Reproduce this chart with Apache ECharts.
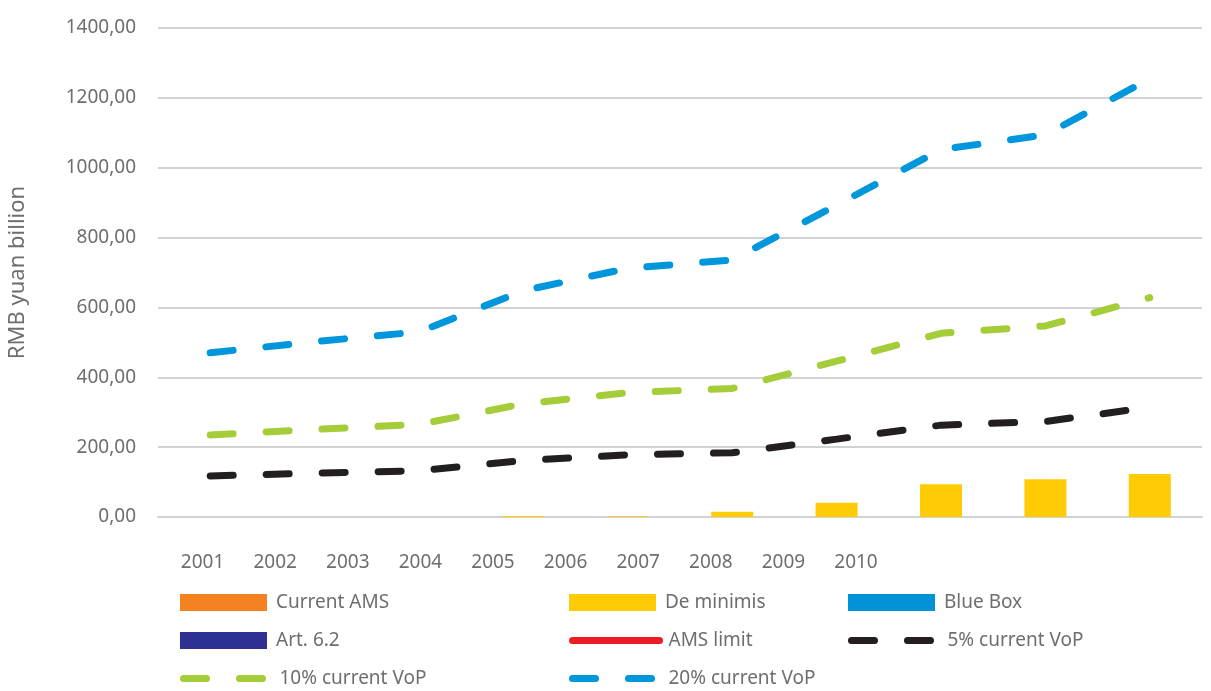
<!DOCTYPE html>
<html>
<head>
<meta charset="utf-8">
<script src="https://cdn.jsdelivr.net/npm/echarts@6/dist/echarts.min.js"></script>
<style>
  html, body { margin: 0; padding: 0; background: #ffffff; }
  #chart { width: 1211px; height: 691px; }
</style>
</head>
<body>
<div id="chart"></div>
<script>
// Ten-year series, RMB yuan billion
const years = ['2001', '2002', '2003', '2004', '2005', '2006', '2007', '2008', '2009', '2010'];

// Support categories (stacked bars)
const currentAms = [];
const deMinimis = [0, 0, 0, 3, 2, 15, 41, 94, 108, 123];
const blueBox = [];
const art62 = [];

// Reference lines
const amsLimit = [];
const vop5 = [117.5, 125.5, 132.5, 162, 178, 184, 223, 263, 273.5, 314];
const vop10 = [235, 251, 265, 324, 356, 368, 446, 526, 547, 628];
const vop20 = [470, 502, 530, 648, 712, 736, 893, 1052, 1094, 1255];

// y-axis ticks
const yMin = 0, yMax = 1400, yStep = 200;

const FONT = '"Noto Sans", "Open Sans", sans-serif';
const TEXT = '#6d6e71';
const GRID = '#d1d2d4';
const DASH = [23, 33];

const dashed = (color) => ({ color: color, width: 7, type: DASH, cap: 'round' });

const chart = echarts.init(document.getElementById('chart'), null, { renderer: 'canvas' });

// One legend block per entry, laid out as a 3-column table
const legendCols = [180, 569, 848];
const legendRows = [593, 631, 669];
const legendEntries = [
  { name: 'Current AMS', col: 0, row: 0, kind: 'rect' },
  { name: 'De minimis', col: 1, row: 0, kind: 'rect' },
  { name: 'Blue Box', col: 2, row: 0, kind: 'rect' },
  { name: 'Art. 6.2', col: 0, row: 1, kind: 'rect' },
  { name: 'AMS limit', col: 1, row: 1, kind: 'line' },
  { name: '5% current VoP', col: 2, row: 1, kind: 'line' },
  { name: '10% current VoP', col: 0, row: 2, kind: 'line' },
  { name: '20% current VoP', col: 1, row: 2, kind: 'line' }
];

const legends = legendEntries.map((e) => ({
  left: legendCols[e.col],
  top: legendRows[e.row],
  itemWidth: 87,
  itemHeight: 17,
  selectedMode: false,
  padding: 0,
  textStyle: { color: TEXT, fontSize: 19, fontFamily: FONT, padding: [0, 0, 0, 4] },
  data: [
    e.kind === 'rect'
      ? { name: e.name, icon: 'rect' }
      : { name: e.name, itemStyle: { opacity: 0 }, lineStyle: { width: 7, cap: 'round' } }
  ]
}));

chart.setOption({
  animation: false,
  backgroundColor: '#ffffff',
  grid: [
    { left: 158, right: 9, top: 28, bottom: 174, containLabel: false, outerBoundsMode: 'none' },
    { left: 166.3, width: 726, top: 28, bottom: 174, containLabel: false, outerBoundsMode: 'none' }
  ],
  xAxis: [
    {
      type: 'category',
      gridIndex: 0,
      data: years,
      boundaryGap: true,
      axisLine: { show: true, lineStyle: { color: GRID, width: 2 } },
      axisTick: { show: false },
      axisLabel: { show: false }
    },
    {
      type: 'category',
      gridIndex: 1,
      data: years,
      boundaryGap: true,
      axisLine: { show: false },
      axisTick: { show: false },
      axisLabel: { color: TEXT, fontSize: 19, fontFamily: FONT, margin: 36 }
    }
  ],
  yAxis: [
    {
      type: 'value',
      gridIndex: 0,
      min: yMin,
      max: yMax,
      interval: yStep,
      name: 'RMB yuan billion',
      nameLocation: 'middle',
      nameRotate: 90,
      nameGap: 129,
      nameTextStyle: { color: TEXT, fontSize: 22, fontFamily: FONT },
      axisLine: { show: false },
      axisTick: { show: false },
      axisLabel: {
        color: TEXT,
        fontSize: 19,
        fontFamily: FONT,
        margin: 22,
        formatter: (v) => v.toFixed(2).replace('.', ',')
      },
      splitLine: { show: true, lineStyle: { color: GRID, width: 2 } }
    },
    {
      type: 'value',
      gridIndex: 1,
      show: false,
      min: yMin,
      max: yMax
    }
  ],
  legend: legends,
  series: [
    { name: 'Current AMS', type: 'bar', stack: 'support', barWidth: 42, data: currentAms, itemStyle: { color: '#f58220' } },
    { name: 'De minimis', type: 'bar', stack: 'support', barWidth: 42, data: deMinimis, itemStyle: { color: '#ffcb05' } },
    { name: 'Blue Box', type: 'bar', stack: 'support', barWidth: 42, data: blueBox, itemStyle: { color: '#0092d6' } },
    { name: 'Art. 6.2', type: 'bar', stack: 'support', barWidth: 42, data: art62, itemStyle: { color: '#2e3192' } },
    {
      name: 'AMS limit', type: 'line', data: amsLimit, symbol: 'none',
      itemStyle: { color: '#ed1c24' },
      lineStyle: { color: '#ed1c24', width: 7, cap: 'round' }
    },
    {
      name: '5% current VoP', type: 'line', data: vop5, symbol: 'none', z: 3,
      itemStyle: { color: '#231f20' }, lineStyle: dashed('#231f20')
    },
    {
      name: '10% current VoP', type: 'line', data: vop10, symbol: 'none', z: 3,
      itemStyle: { color: '#a5cd39' }, lineStyle: dashed('#a5cd39')
    },
    {
      name: '20% current VoP', type: 'line', data: vop20, symbol: 'none', z: 3,
      itemStyle: { color: '#0096db' }, lineStyle: dashed('#0096db')
    }
  ]
});
</script>
</body>
</html>
